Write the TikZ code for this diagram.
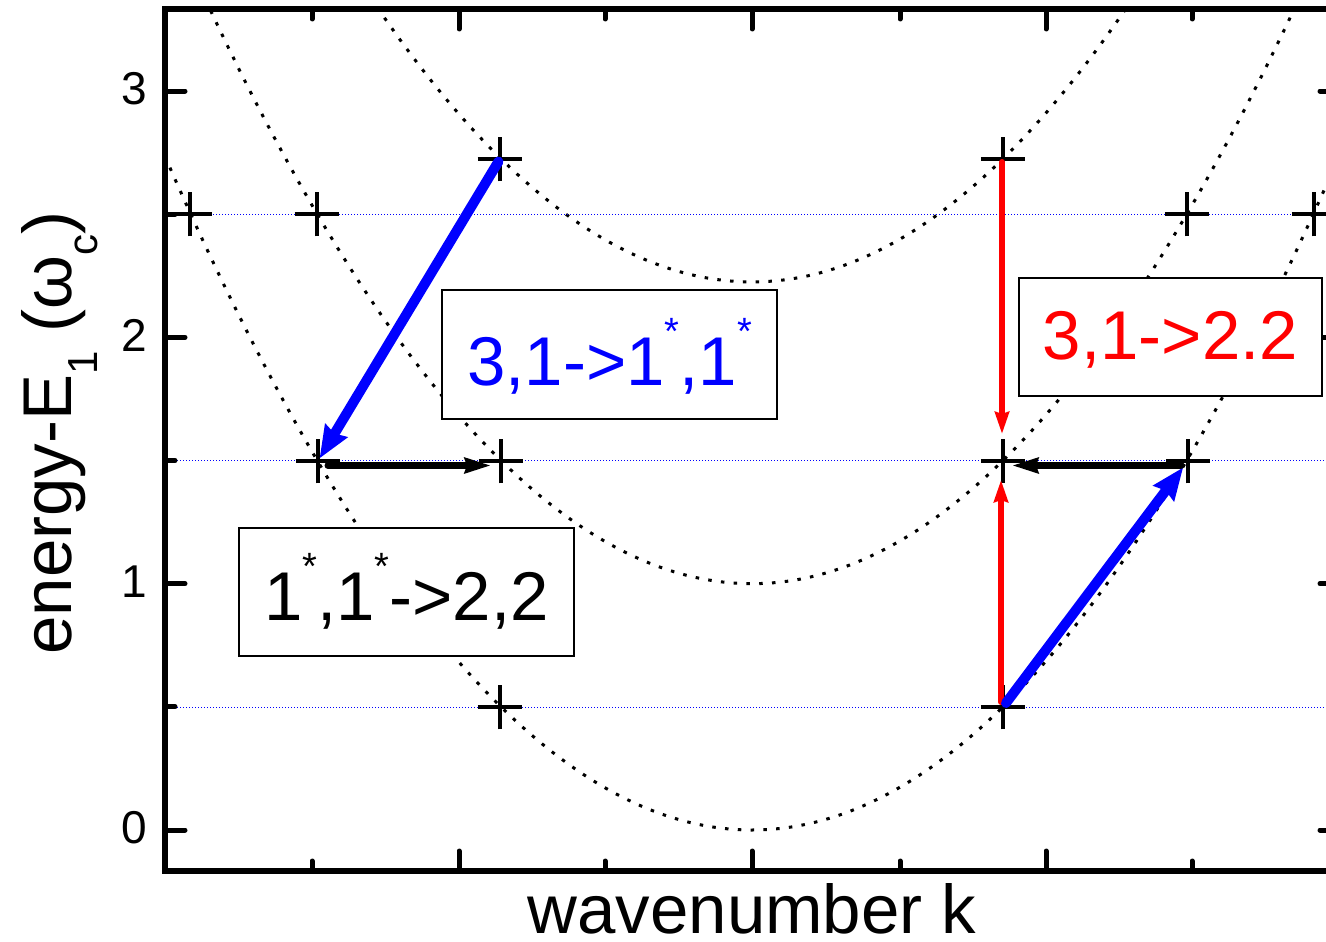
\documentclass[tikz,border=0pt]{standalone}
\usepackage{fontspec}
\setmainfont{Liberation Sans}
\usetikzlibrary{arrows.meta,shapes.misc}
\newcommand\supstar{\raisebox{41pt}{\fontsize{38}{40}\selectfont *}}
\newcommand\subsc[1]{\raisebox{-26pt}{\fontsize{42}{44}\selectfont #1}}
\begin{document}
\begin{tikzpicture}[x=1pt,y=-1pt,
  pm/.style={cross out,draw,rotate=45,minimum size=28.28pt,inner sep=0pt,line width=3.2pt},
  band/.style={line width=3pt,dash pattern=on 3.5pt off 9.3pt},
  guide/.style={blue,line width=1pt,dash pattern=on 1pt off 2pt},
  frameline/.style={line width=6pt,line join=miter},
  majortick/.style={line width=5pt,line cap=round},
  lbox/.style={draw,line width=2pt,fill=white,inner sep=0pt,text depth=0pt,
    font=\fontsize{69}{80}\selectfont},
  blueA/.style={blue,line width=10pt,line cap=round,-{Stealth[length=32pt,width=25pt,inset=3pt]}},
  redA/.style={red,line width=6pt,line cap=round,-{Stealth[length=22pt,width=14pt,inset=2pt]}},
  blackA/.style={black,line width=7pt,line cap=round,-{Stealth[length=26pt,width=15pt,inset=2pt]}},
  ticklab/.style={anchor=base east,font=\fontsize{46}{50}\selectfont,inner sep=0pt},
  axlab/.style={anchor=base,font=\fontsize{69}{80}\selectfont,inner sep=0pt}
]
\useasboundingbox (0,0) rectangle (1326,942);
\fill[white] (0,0) rectangle (1326,942);

% dotted parabolas
\begin{scope}
\clip (165,9) rectangle (1340,871);
\draw[band] plot[domain=-2.319:2.4,samples=160,smooth] ({752+251*\x},{830-246.33*(0.5*\x*\x)});
\draw[band] plot[domain=-2.2:2.4,samples=160,smooth] ({752+251*\x},{830-246.33*(1+0.5*\x*\x)});
\draw[band] plot[domain=-1.55:1.55,samples=120,smooth] ({752+251*\x},{830-246.33*(2.225+0.5*\x*\x)});
\end{scope}

% blue guides
\draw[guide] (165,214) -- (1340,214);
\draw[guide] (165,460.5) -- (1340,460.5);
\draw[guide] (165,707) -- (1340,707);

% frame and ticks
\draw[frameline] (165,9) rectangle (1340,871);
\foreach \e in {0,1,2,3} {
  \draw[majortick] (165,{830-246.33*\e}) -- ++(20,0);
  \draw[majortick] (1340,{830-246.33*\e}) -- ++(-20,0);
}
\foreach \e in {0.5,1.5,2.5} {
  \draw[majortick] (165,{830-246.33*\e}) -- ++(10,0);
  \draw[majortick] (1340,{830-246.33*\e}) -- ++(-10,0);
}
\foreach \k in {459,752,1046} {
  \draw[majortick] (\k,871) -- ++(0,-20);
  \draw[majortick] (\k,9) -- ++(0,20);
}
\foreach \k in {312,605,900,1192} {
  \draw[majortick] (\k,871) -- ++(0,-10);
  \draw[majortick] (\k,9) -- ++(0,10);
}

% tick labels
\node[ticklab] (t0) at (147,843) {0};
\node[ticklab] (t1) at (147,597) {1};
\node[ticklab] (t2) at (147,351) {2};
\node[ticklab] (t3) at (147,104) {3};

% axis labels
\node[axlab] (xl) at (752,933) {wavenumber k};
\node[axlab,rotate=90] (yl) at (71,433) {energy-E\subsc{1} (ω\subsc{c})};

% crosses
\node[pm] (ca) at (190,214) {};
\node[pm] (cb) at (317,214) {};
\node[pm] (cc) at (500,159) {};
\node[pm] (cd) at (318,461) {};
\node[pm] (ce) at (501,461) {};
\node[pm] (cf) at (500,707) {};
\node[pm] (cg) at (1003,159) {};
\node[pm] (ch) at (1187,214) {};
\node[pm] (ci) at (1314,214) {};
\node[pm] (cj) at (1003,461) {};
\node[pm] (ck) at (1188,461) {};
\node[pm] (cl) at (1003,707) {};

% arrows
\draw[blueA,shorten <=3pt,shorten >=3pt] (cc.center) -- (cd.center);
\draw[blackA,shorten <=10pt,shorten >=10pt] ([yshift=-4.5pt]cd.center) -- ([yshift=-4.5pt]ce.center);
\draw[redA,shorten <=3pt,shorten >=27pt] ([xshift=-1pt]cg.center) -- ([xshift=-1pt]cj.center);
\draw[redA,shorten <=5pt,shorten >=19pt] ([xshift=-2pt]cl.center) -- ([xshift=-2pt]cj.center);
\draw[blueA,shorten <=5pt,shorten >=8pt] (cl.center) -- (ck.center);
\draw[blackA,shorten <=7pt,shorten >=9pt] ([yshift=-4.5pt]ck.center) -- ([yshift=-4.5pt]cj.center);

% labelled boxes
\node[lbox,text=blue,minimum width=335pt,minimum height=129pt,text height=61pt] (bb) at (609.5,354.5)
  {3,1->1\supstar,1\supstar};
\node[lbox,text=red,minimum width=303pt,minimum height=118pt,text height=44pt] (rb) at (1170.5,337)
  {3,1->2.2};
\node[lbox,minimum width=335pt,minimum height=128pt,text height=56pt] (kb) at (406.5,592)
  {1\supstar,1\supstar->2,2};
\end{tikzpicture}
\end{document}
